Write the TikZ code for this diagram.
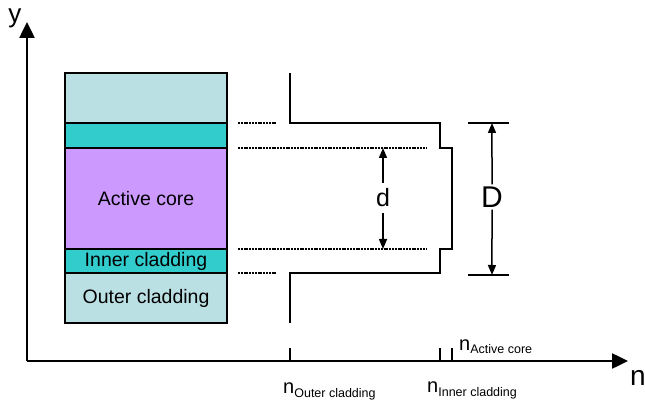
\documentclass[tikz,border=0pt]{standalone}
\usepackage{fontspec}
\setmainfont{Liberation Sans}
\usetikzlibrary{positioning, arrows.meta, calc}

\definecolor{outerclad}{HTML}{BBE0E3}
\definecolor{innerclad}{HTML}{33CCCC}
\definecolor{activecore}{HTML}{CC99FF}

\begin{document}
\begin{tikzpicture}[
    x=1pt, y=-1pt,
    layer/.style={
        draw,
        line width=1.2pt,
        minimum width=162pt,
        inner sep=0pt,
        outer sep=0pt,
        font=\fontsize{19.5}{21}\selectfont
    },
    axis/.style={-{Triangle[length=16pt, width=15pt]}, line width=2.5pt},
    profile/.style={line width=2pt},
    level/.style={line width=2.2pt, dash pattern=on 2pt off 0.8pt},
    dimarrow/.style={-{Triangle[length=10pt, width=8pt]}, line width=1.5pt},
    dimline/.style={line width=1.5pt},
    tick/.style={line width=1.5pt},
    index/.style={anchor=base west, inner sep=0pt, font=\fontsize{20}{22}\selectfont}
]
\useasboundingbox (0,0) rectangle (645,403);

% Fibre layers
\node[layer, fill=outerclad, minimum height=50pt, anchor=north west] (outertop) at (65,73) {};
\node[layer, fill=innerclad, minimum height=25pt, below=0pt of outertop] (innertop) {};
\node[layer, fill=activecore, minimum height=101pt, below=0pt of innertop] (core) {Active core};
\node[layer, fill=innerclad, minimum height=24pt, below=0pt of core] (innerbot) {Inner cladding};
\node[layer, fill=outerclad, minimum height=50pt, below=0pt of innerbot] (outerbot) {Outer cladding};

% Axes
\coordinate (origin) at (27,361);
\coordinate (ytip) at (27,22);
\coordinate (xtip) at (628,361);
\draw[axis] (origin) -- (ytip);
\draw[axis] (origin) -- (xtip);
\node[font=\fontsize{26}{28}\selectfont] (ylabel) at (15,18) {y};
\node[font=\fontsize{28}{30}\selectfont] (nlabel) at (638,378) {n};

% Index profile
\coordinate (p1) at (290,73);
\coordinate (p3) at (440,123);
\coordinate (p5) at (452,148);
\coordinate (p7) at (440,249);
\coordinate (p9) at (290,273);
\coordinate (p10) at (290,323);
\draw[profile] (p1) |- (p3) |- (p5) |- (p7) |- (p9) -- (p10);

% Levels
\coordinate (l1a) at (238,123); \coordinate (l1b) at (277,123);
\coordinate (l2a) at (238,148); \coordinate (l2b) at (427,148);
\coordinate (l3a) at (238,249); \coordinate (l3b) at (427,249);
\coordinate (l4a) at (238,273); \coordinate (l4b) at (277,273);
\draw[level] (l1a) -- (l1b);
\draw[level] (l2a) -- (l2b);
\draw[level] (l3a) -- (l3b);
\draw[level] (l4a) -- (l4b);

% Ticks
\coordinate (t1) at (290,348); \coordinate (t1a) at (290,361);
\coordinate (t2) at (440,348); \coordinate (t2a) at (440,361);
\coordinate (t3) at (452,348); \coordinate (t3a) at (452,361);
\draw[tick] (t1) -- (t1a);
\draw[tick] (t2) -- (t2a);
\draw[tick] (t3) -- (t3a);

% Index labels
\node[index] (nouter) at (283,393) {n\raisebox{-4pt}{\fontsize{12.5}{14}\selectfont Outer cladding}};
\node[index] (ninner) at (427,392) {n\raisebox{-4pt}{\fontsize{12.5}{14}\selectfont Inner cladding}};
\node[index] (nactive) at (459,350) {n\raisebox{-3pt}{\fontsize{12.5}{14}\selectfont Active core}};

% d
\node[font=\fontsize{25}{27}\selectfont, inner sep=1pt] (dlabel) at (383,198) {d};
\coordinate (dtop) at (383,148);
\coordinate (dbot) at (383,249);
\draw[dimarrow] (383,183) -- (dtop);
\draw[dimarrow] (383,213) -- (dbot);

% D
\coordinate (Dl1) at (468,123); \coordinate (Dr1) at (509,123);
\coordinate (Dl2) at (468,275); \coordinate (Dr2) at (509,275);
\draw[dimline] (Dl1) -- (Dr1);
\draw[dimline] (Dl2) -- (Dr2);
\node[font=\fontsize{30}{32}\selectfont, inner sep=2pt] (Dlabel) at (492,197) {D};
\draw[dimarrow] (Dlabel.north) -- ($(Dl1)!0.585!(Dr1)$);
\draw[dimarrow] (Dlabel.south) -- ($(Dl2)!0.585!(Dr2)$);

\end{tikzpicture}
\end{document}
